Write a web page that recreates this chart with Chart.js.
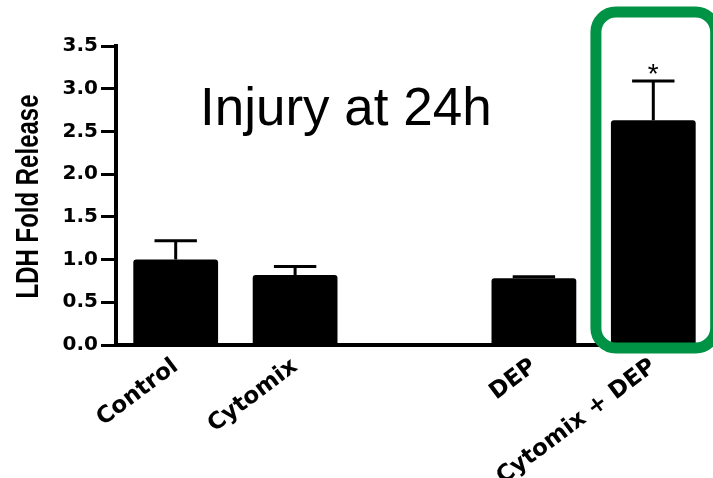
<!DOCTYPE html>
<html>
<head>
<meta charset="utf-8">
<title>LDH Fold Release</title>
<script src="https://cdn.jsdelivr.net/npm/chart.js@4.4.1/dist/chart.umd.min.js"></script>
<style>
  html, body { margin: 0; padding: 0; background: #fff; }
  #wrap { width: 713px; height: 478px; position: relative; }
</style>
</head>
<body>
<div id="wrap"><canvas id="ldhChart"></canvas></div>
<script>
// Data
const categories = ["Control", "Cytomix", "", "DEP", "Cytomix + DEP"];
const means = [1.0, 0.82, null, 0.78, 2.63];
const sem = [0.22, 0.10, null, 0.02, 0.46];
const marks = ["", "", "", "", "*"];
const highlighted = [4];
const yMax = 3.5;
const yStep = 0.5;
const chartTitle = "Injury at 24h";
const yTitle = "LDH Fold Release";

// error bars, asterisk, titles and the green highlight box
const annotate = {
  id: "annotate",
  afterDatasetsDraw(chart) {
    const { ctx, scales: { y }, chartArea } = chart;
    const meta = chart.getDatasetMeta(0);
    ctx.save();
    meta.data.forEach((bar, i) => {
      if (means[i] == null) return;
      const top = y.getPixelForValue(means[i] + sem[i]);
      ctx.strokeStyle = "#000";
      ctx.lineWidth = 3;
      ctx.beginPath();
      ctx.moveTo(bar.x, bar.y);
      ctx.lineTo(bar.x, top);
      ctx.moveTo(bar.x - bar.width / 4, top);
      ctx.lineTo(bar.x + bar.width / 4, top);
      ctx.stroke();
      if (marks[i]) {
        ctx.fillStyle = "#000";
        ctx.font = "28px 'Liberation Sans', Arial, sans-serif";
        ctx.textAlign = "center";
        ctx.textBaseline = "alphabetic";
        ctx.fillText(marks[i], bar.x, top + 2);
      }
    });

    // title inside the plot
    ctx.fillStyle = "#000";
    ctx.font = "53px 'Liberation Sans', Arial, sans-serif";
    ctx.textAlign = "left";
    ctx.textBaseline = "alphabetic";
    ctx.fillText(chartTitle, chartArea.left + 84, chartArea.top + 79);

    // y axis title, a bit stretched like the original figure
    ctx.save();
    ctx.translate(38, (chartArea.top + chartArea.bottom) / 2 + 1);
    ctx.rotate(-Math.PI / 2);
    ctx.scale(1, 1.3);
    ctx.font = "bold 24px 'Liberation Sans', Arial, sans-serif";
    ctx.textAlign = "center";
    ctx.fillText(yTitle, 0, 0);
    ctx.restore();

    // green rounded box round the highlighted bar
    highlighted.forEach(i => {
      const bar = meta.data[i];
      const l = bar.x - bar.width / 2 - 15;
      const r = bar.x + bar.width / 2 + 20;
      const t = chartArea.top - 34;
      const b = bar.base + 3.5;
      ctx.strokeStyle = "#009245";
      ctx.lineWidth = 11;
      ctx.beginPath();
      ctx.roundRect(l, t, r - l, b - t, 20);
      ctx.stroke();
    });
    ctx.restore();
  }
};

new Chart(document.getElementById("ldhChart"), {
  type: "bar",
  data: {
    labels: categories,
    datasets: [{
      data: means,
      backgroundColor: "#000",
      borderRadius: 3,
      borderSkipped: "bottom",
      barPercentage: 0.71,
      categoryPercentage: 1.0
    }]
  },
  options: {
    responsive: true,
    maintainAspectRatio: false,
    animation: false,
    layout: { padding: { top: 46, right: 0, left: 0, bottom: 0 } },
    scales: {
      x: {
        grid: { display: false, drawTicks: false },
        border: { display: true, color: "#000", width: 4 },
        ticks: {
          color: "#000",
          autoSkip: false,
          minRotation: 37,
          maxRotation: 37,
          padding: 8,
          font: { family: "'DejaVu Sans'", size: 23, weight: "bold" }
        },
        afterFit: s => { s.height = 133; }
      },
      y: {
        min: 0,
        max: yMax,
        grid: { drawOnChartArea: false, drawTicks: true, tickLength: 15, tickWidth: 3, tickColor: "#000" },
        border: { display: true, color: "#000", width: 4 },
        ticks: {
          stepSize: yStep,
          color: "#000",
          padding: 3,
          font: { family: "'DejaVu Sans'", size: 20, weight: "bold" },
          callback: v => v.toFixed(1)
        },
        afterFit: s => { s.width = 116; }
      }
    },
    plugins: {
      legend: { display: false },
      tooltip: { enabled: false }
    }
  },
  plugins: [annotate]
});
</script>
</body>
</html>
